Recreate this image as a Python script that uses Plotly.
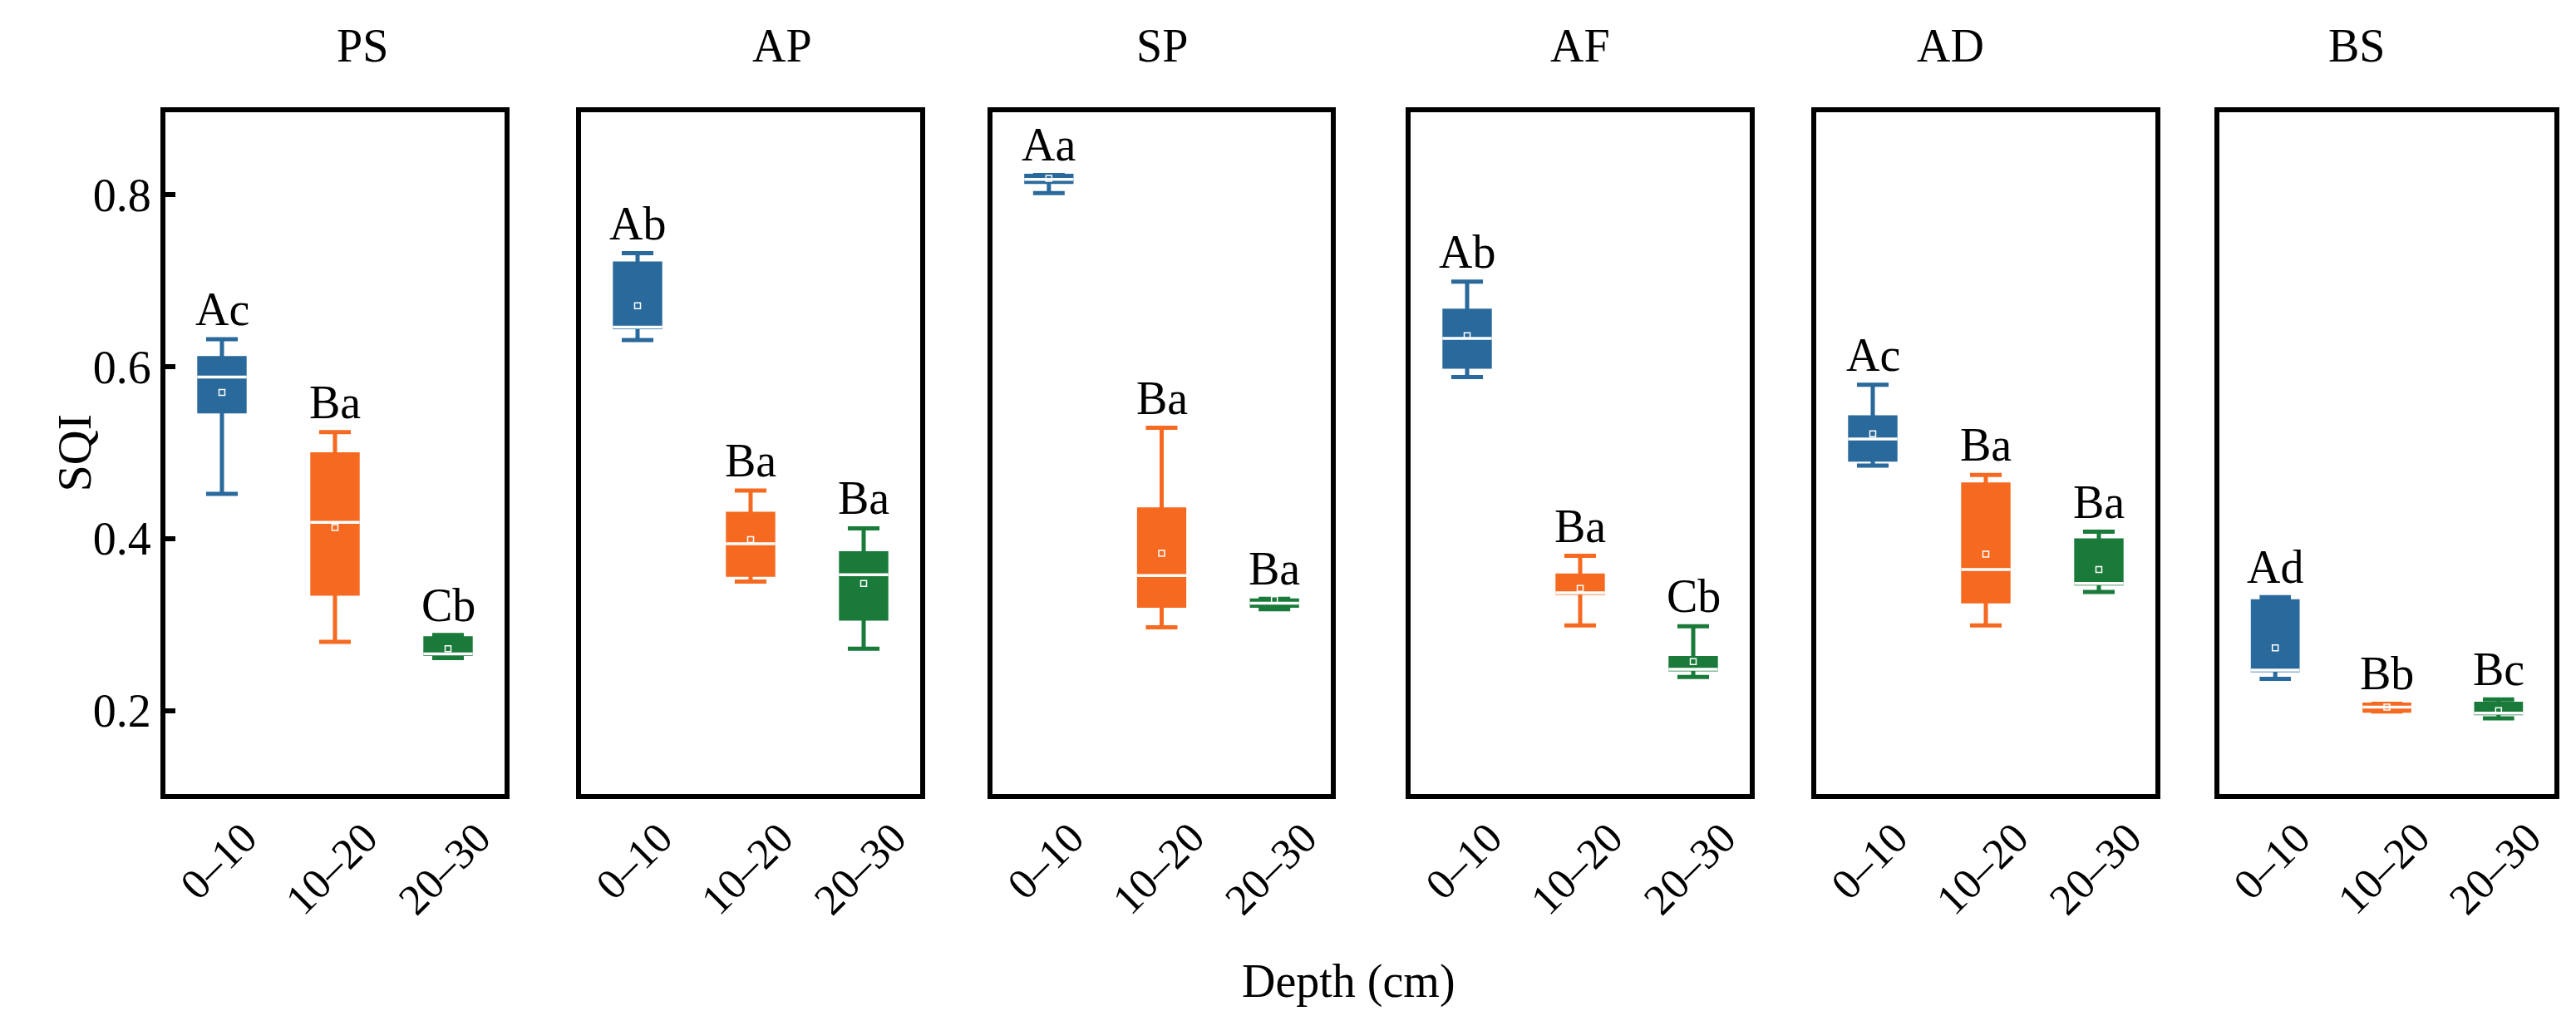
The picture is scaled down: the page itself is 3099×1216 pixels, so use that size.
import plotly.graph_objects as go

# soil quality index (SQI) by land use and depth
sites = ['PS', 'AP', 'SP', 'AF', 'AD', 'BS']
depths = ['0–10', '10–20', '20–30']

lower = [[0.452, 0.280, 0.261],
         [0.631, 0.350, 0.272],
         [0.802, 0.297, 0.318],
         [0.588, 0.299, 0.239],
         [0.485, 0.299, 0.338],
         [0.237, 0.199, 0.191]]
q1 = [[0.548, 0.336, 0.266],
      [0.646, 0.358, 0.307],
      [0.815, 0.322, 0.322],
      [0.600, 0.337, 0.248],
      [0.492, 0.327, 0.348],
      [0.247, 0.200, 0.197]]
median = [[0.588, 0.419, 0.266],
          [0.646, 0.394, 0.358],
          [0.818, 0.357, 0.325],
          [0.633, 0.337, 0.248],
          [0.516, 0.364, 0.348],
          [0.247, 0.204, 0.197]]
q3 = [[0.610, 0.498, 0.284],
      [0.720, 0.429, 0.383],
      [0.822, 0.434, 0.328],
      [0.665, 0.357, 0.261],
      [0.541, 0.463, 0.398],
      [0.327, 0.207, 0.208]]
upper = [[0.632, 0.524, 0.288],
         [0.732, 0.456, 0.412],
         [0.823, 0.529, 0.330],
         [0.699, 0.380, 0.298],
         [0.579, 0.474, 0.408],
         [0.332, 0.208, 0.213]]
mean = [[0.570, 0.413, 0.272],
        [0.671, 0.399, 0.348],
        [0.819, 0.383, 0.329],
        [0.636, 0.342, 0.257],
        [0.522, 0.382, 0.364],
        [0.273, 0.204, 0.200]]
letters = [['Ac', 'Ba', 'Cb'],
           ['Ab', 'Ba', 'Ba'],
           ['Aa', 'Ba', 'Ba'],
           ['Ab', 'Ba', 'Cb'],
           ['Ac', 'Ba', 'Ba'],
           ['Ad', 'Bb', 'Bc']]
y_ticks = [0.2, 0.4, 0.6, 0.8]

colors = ['#29699B', '#F56A20', '#1A7A3A']
FONT = 'Liberation Serif'
W, H = 3099, 1216
panel_px = [(191, 599), (691, 1099), (1186, 1593),
            (1689, 2097), (2177, 2585), (2662, 3065)]
y_top_px, y_bot_px = 127, 947
ydom = [1 - y_bot_px / H, 1 - y_top_px / H]
BOX_W = 0.40
half = BOX_W / 2 + 0.018

fig = go.Figure()
annotations = []
for p, site in enumerate(sites):
    ax = '' if p == 0 else str(p + 1)
    xr, yr = 'x' + ax, 'y' + ax
    for d in range(len(depths)):
        fig.add_trace(go.Box(
            x=[d], q1=[q1[p][d]], median=[median[p][d]], q3=[q3[p][d]],
            lowerfence=[lower[p][d]], upperfence=[upper[p][d]],
            width=BOX_W, whiskerwidth=0.7, fillcolor=colors[d],
            line=dict(color=colors[d], width=5), boxpoints=False,
            showlegend=False, hoverinfo='skip', xaxis=xr, yaxis=yr))
        # white median bar drawn over the box
        fig.add_trace(go.Scatter(
            x=[d - half, d + half], y=[median[p][d]] * 2, mode='lines',
            line=dict(color='white', width=3.5), showlegend=False,
            hoverinfo='skip', xaxis=xr, yaxis=yr))
        fig.add_trace(go.Scatter(
            x=[d], y=[mean[p][d]], mode='markers',
            marker=dict(symbol='square-open', size=7, color='white',
                        line=dict(width=1.5, color='white')),
            showlegend=False, hoverinfo='skip', xaxis=xr, yaxis=yr))
        annotations.append(dict(
            x=d, y=upper[p][d], xref=xr, yref=yr, text=letters[p][d],
            showarrow=False, yanchor='bottom', yshift=3,
            font=dict(family=FONT, size=56, color='black')))
        annotations.append(dict(
            x=d, y=1 - 968 / H, xref=xr, yref='paper', text=depths[d],
            showarrow=False, textangle=-45, xanchor='center', yanchor='top',
            xshift=-4, font=dict(family=FONT, size=52, color='black')))
    x0, x1 = panel_px[p]
    annotations.append(dict(
        x=(x0 + x1) / 2 / W, y=1 - 47 / H, xref='paper', yref='paper',
        text=site, showarrow=False, yanchor='middle',
        font=dict(family=FONT, size=56, color='black')))
    fig.update_layout(**{
        'xaxis' + ax: dict(domain=[x0 / W, x1 / W], range=[-0.5, 2.5],
                           anchor=yr, showline=True, mirror=True,
                           linecolor='black', linewidth=6, ticks='',
                           showticklabels=False, showgrid=False,
                           zeroline=False),
        'yaxis' + ax: dict(domain=ydom, range=[0.103, 0.896], anchor=xr,
                           showline=True, mirror=True, linecolor='black',
                           linewidth=6, showgrid=False, zeroline=False,
                           tickvals=y_ticks,
                           ticks='inside' if p == 0 else '',
                           ticklen=12, tickwidth=6, tickcolor='black',
                           showticklabels=(p == 0),
                           tickfont=dict(family=FONT, size=56,
                                         color='black'))})

annotations.append(dict(
    x=46 / W, y=sum(ydom) / 2, xref='paper', yref='paper', text='SQI',
    showarrow=False, textangle=-90,
    font=dict(family=FONT, size=58, color='black')))
annotations.append(dict(
    x=1614 / W, y=1 - 1172 / H, xref='paper', yref='paper',
    text='Depth (cm)', showarrow=False, yanchor='middle',
    font=dict(family=FONT, size=56, color='black')))

fig.update_layout(width=W, height=H, margin=dict(l=0, r=0, t=0, b=0),
                  plot_bgcolor='white', paper_bgcolor='white',
                  boxmode='overlay', annotations=annotations)
fig.write_html('out.html')
